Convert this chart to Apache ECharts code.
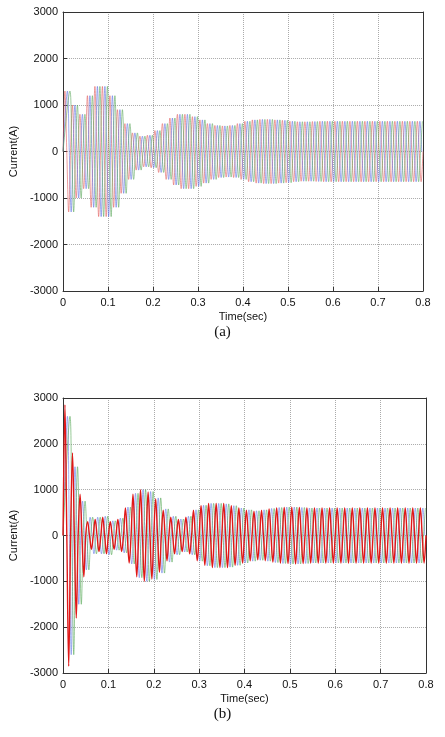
<!DOCTYPE html>
<html><head><meta charset="utf-8">
<script src="https://cdn.jsdelivr.net/npm/echarts@6/dist/echarts.min.js"></script>
<style>html,body{margin:0;padding:0;background:#fff}#c{width:445px;height:737px}</style>
</head><body><div id="c"></div>
<script>
// Peak magnitude per 60 Hz cycle (A), 48 cycles over 0.8 s
const peaksA = [1300,1000,800,1200,1400,1400,1200,900,600,400,330,350,450,600,720,800,800,750,680,600,560,550,560,600,650,680,690,690,680,670,650,640,640,645,650,650,650,650,650,650,650,650,650,650,650,650,650,650];
const peaksB_red = [2850,1800,900,300,350,400,300,350,600,900,1000,950,800,550,400,350,400,550,650,700,700,700,650,600,550,530,550,580,600,610,620,610,600,600,600,600,600,600,600,600,600,600,600,600,600,600,600,600];
const peaksB_other = [2600,1500,750,400,400,420,320,380,620,920,1000,960,820,580,420,360,420,560,660,700,700,690,650,600,560,540,560,590,610,620,620,610,600,600,600,600,600,600,600,600,600,600,600,600,600,600,600,600];
const xTicks = ['0','0.1','0.2','0.3','0.4','0.5','0.6','0.7','0.8'];
const yTicks = ['-3000','-2000','-1000','0','1000','2000','3000'];
const freq = 60;

function wave(peaks, phase){
  const d=[[0,0]];
  for(let k=0;k<peaks.length;k++){
    const t0=(k+phase/3)/freq;
    [[1,1],[2,0],[3,-1],[4,0]].forEach(([q,s])=>{
      const t=t0+q/(4*freq);
      if(t<=0.8) d.push([t,s*peaks[k]]);
    });
  }
  return d;
}
const chart=echarts.init(document.getElementById('c'));
const grids=[{left:63,top:12,width:360,height:279},{left:61,top:398,width:365,height:275}];
const axisFont={fontFamily:'Liberation Sans',fontSize:11,color:'#111'};
function xa(i){return {gridIndex:i,type:'value',min:0,max:0.8,interval:0.1,
  name:'Time(sec)',nameLocation:'middle',nameGap:20,nameTextStyle:axisFont,
  axisLine:{onZero:false,lineStyle:{color:'#333'}},axisTick:{inside:true,length:4},
  axisLabel:Object.assign({margin:6,formatter:v=>xTicks[Math.round(v*10)]},axisFont),
  splitLine:{lineStyle:{type:'dotted',color:'#aaa'}}};}
function ya(i){return {gridIndex:i,type:'value',min:-3000,max:3000,interval:1000,
  name:'Current(A)',nameLocation:'middle',nameGap:38,nameTextStyle:axisFont,
  axisLine:{show:true,onZero:false,lineStyle:{color:'#333'}},axisTick:{inside:true,length:4},
  axisLabel:Object.assign({margin:5,formatter:v=>yTicks[Math.round(v/1000)+3]},axisFont),
  splitLine:{lineStyle:{type:'dotted',color:'#aaa'}}};}
function s(i,data,color,w,op){return {type:'line',xAxisIndex:i,yAxisIndex:i,data:data,symbol:'none',smooth:0.35,
  lineStyle:{color:color,width:w,opacity:op},silent:true,animation:false};}
const frameX=i=>({gridIndex:i,type:'value',position:'top',min:0,max:0.8,axisLine:{onZero:false,lineStyle:{color:'#333'}},axisTick:{show:false},axisLabel:{show:false},splitLine:{show:false}});
const frameY=i=>({gridIndex:i,type:'value',position:'right',min:-3000,max:3000,axisLine:{show:true,onZero:false,lineStyle:{color:'#333'}},axisTick:{show:false},axisLabel:{show:false},splitLine:{show:false}});
chart.setOption({
  animation:false,
  grid:grids,
  xAxis:[xa(0),xa(1),frameX(0),frameX(1)],
  yAxis:[ya(0),ya(1),frameY(0),frameY(1)],
  series:[
    s(0,wave(peaksA,0),'#e05a5a',0.7,0.85),
    s(0,wave(peaksA,1),'#5a6ee0',0.7,0.85),
    s(0,wave(peaksA,2),'#5aa55a',0.7,0.85),
    s(1,wave(peaksB_other,1),'#6a7ee8',0.8,0.8),
    s(1,wave(peaksB_other,2),'#5aaa5a',0.8,0.8),
    s(1,wave(peaksB_red,0),'#e01818',1.4,1)
  ],
  graphic:[
    {type:'text',left:'center',top:325,style:{text:'(a)',font:'15px "Liberation Serif"',fill:'#111'}},
    {type:'text',left:'center',top:707,style:{text:'(b)',font:'15px "Liberation Serif"',fill:'#111'}}
  ]
});
</script></body></html>
